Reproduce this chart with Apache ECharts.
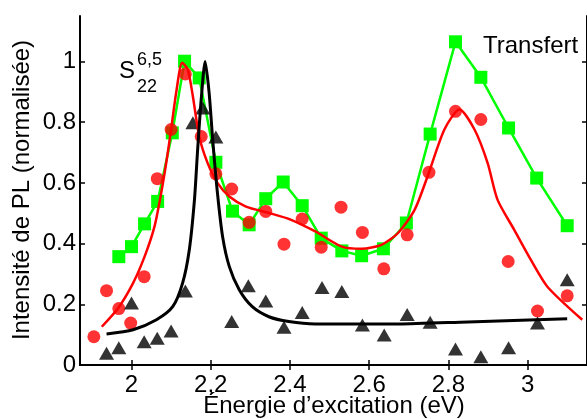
<!DOCTYPE html>
<html><head><meta charset="utf-8">
<script src="https://cdn.jsdelivr.net/npm/echarts@6/dist/echarts.min.js"></script>
<style>html,body{margin:0;padding:0;background:#fff}#c{width:587px;height:419px}</style>
</head><body><div id="c"></div>
<script>
// tick values and labels
const xTickValues = [2, 2.2, 2.4, 2.6, 2.8, 3];
const xTickLabels = ['2', '2,2', '2.4', '2.6', '2.8', '3'];
const yTickValues = [0, 0.2, 0.4, 0.6, 0.8, 1];
const yTickLabels = ['0', '0.2', '0.4', '0.6', '0.8', '1'];

// Transfert (green squares, connected)
const greenX = [1.968, 2.000, 2.033, 2.066, 2.103, 2.134, 2.171, 2.213, 2.255, 2.297, 2.339, 2.383, 2.431, 2.479, 2.531, 2.581, 2.636, 2.694, 2.754, 2.818, 2.882, 2.952, 3.023, 3.100];
const greenY = [0.357, 0.390, 0.465, 0.539, 0.765, 1.001, 0.946, 0.668, 0.507, 0.462, 0.548, 0.603, 0.525, 0.418, 0.376, 0.360, 0.383, 0.468, 0.761, 1.065, 0.948, 0.781, 0.616, 0.459];

// red dots
const redX = [1.905, 1.937, 1.968, 1.998, 2.032, 2.065, 2.100, 2.136, 2.176, 2.213, 2.253, 2.297, 2.339, 2.385, 2.431, 2.479, 2.529, 2.583, 2.637, 2.696, 2.751, 2.818, 2.882, 2.951, 3.025, 3.100];
const redY = [0.093, 0.245, 0.186, 0.138, 0.291, 0.614, 0.776, 0.959, 0.753, 0.630, 0.580, 0.470, 0.506, 0.398, 0.481, 0.388, 0.520, 0.437, 0.317, 0.429, 0.635, 0.836, 0.809, 0.341, 0.178, 0.228];

// red fit curve
const redFitX = [1.925, 1.966, 2.004, 2.033, 2.058, 2.075, 2.089, 2.100, 2.114, 2.128, 2.142, 2.155, 2.171, 2.192, 2.217, 2.247, 2.289, 2.347, 2.400, 2.464, 2.531, 2.581, 2.631, 2.673, 2.715, 2.749, 2.790, 2.828, 2.866, 2.899, 2.924, 2.966, 3.008, 3.050, 3.138];
const redFitY = [0.126, 0.187, 0.270, 0.357, 0.456, 0.567, 0.677, 0.776, 0.908, 0.996, 0.974, 0.885, 0.753, 0.666, 0.600, 0.555, 0.522, 0.501, 0.480, 0.440, 0.390, 0.383, 0.396, 0.435, 0.512, 0.627, 0.776, 0.842, 0.776, 0.666, 0.545, 0.446, 0.347, 0.258, 0.149];

// black triangles
const blackX = [1.937, 1.968, 2.000, 2.032, 2.065, 2.100, 2.136, 2.155, 2.180, 2.213, 2.253, 2.295, 2.339, 2.385, 2.431, 2.481, 2.531, 2.583, 2.638, 2.696, 2.754, 2.818, 2.882, 2.952, 3.025, 3.100];
const blackY = [0.039, 0.057, 0.204, 0.077, 0.088, 0.112, 0.244, 0.798, 0.847, 0.751, 0.143, 0.261, 0.211, 0.124, 0.173, 0.255, 0.242, 0.132, 0.099, 0.166, 0.141, 0.053, 0.027, 0.057, 0.138, 0.281];

// black fit curve
const blackFitX = [1.937, 2.004, 2.063, 2.104, 2.129, 2.146, 2.159, 2.167, 2.176, 2.186, 2.196, 2.205, 2.217, 2.230, 2.247, 2.272, 2.305, 2.347, 2.397, 2.464, 2.598, 2.673, 2.849, 3.100];
const blackFitY = [0.102, 0.116, 0.149, 0.192, 0.270, 0.380, 0.545, 0.710, 0.875, 1.000, 0.897, 0.743, 0.567, 0.423, 0.324, 0.248, 0.192, 0.159, 0.143, 0.135, 0.135, 0.135, 0.142, 0.152];

const zip = (a, b) => a.map((v, i) => [v, b[i]]);
const FONT = 'Liberation Sans, Arial, Helvetica, sans-serif';

const chart = echarts.init(document.getElementById('c'), null, {renderer: 'canvas'});
const axLine = {show: true, lineStyle: {color: '#000', width: 2}};
const tick = (vals) => ({show: true, inside: true, length: 5, lineStyle: {color: '#000', width: 1.5}, customValues: vals});

chart.setOption({
  animation: false,
  backgroundColor: '#fff',
  grid: {left: 80, top: 16, right: -3, bottom: 54, containLabel: false},
  xAxis: [{
    type: 'value', min: 1.87, max: 3.15, position: 'bottom',
    axisLine: axLine, axisTick: tick(xTickValues), splitLine: {show: false},
    axisLabel: {customValues: xTickValues, margin: 8, color: '#000', fontSize: 24, fontFamily: FONT,
      formatter: v => { const i = xTickValues.findIndex(t => Math.abs(t - v) < 1e-6); return i >= 0 ? xTickLabels[i] : ''; }}
  }, {
    type: 'value', min: 1.87, max: 3.15, position: 'top',
    axisLine: axLine, axisTick: tick(xTickValues), splitLine: {show: false}, axisLabel: {show: false}
  }],
  yAxis: [{
    type: 'value', min: 0, max: 1.15, position: 'left',
    axisLine: axLine, axisTick: tick(yTickValues), splitLine: {show: false},
    axisLabel: {customValues: yTickValues, margin: 4, color: '#000', fontSize: 24, fontFamily: FONT,
      formatter: v => { const i = yTickValues.findIndex(t => Math.abs(t - v) < 1e-6); return i >= 0 ? yTickLabels[i] : ''; }}
  }, {
    type: 'value', min: 0, max: 1.15, position: 'right',
    axisLine: axLine, axisTick: tick(yTickValues), splitLine: {show: false}, axisLabel: {show: false}
  }],
  series: [
    {type: 'line', data: zip(greenX, greenY), symbol: 'rect', symbolSize: 13, showAllSymbol: true,
      itemStyle: {color: '#00ff00'}, lineStyle: {color: '#00ff00', width: 2.5}, z: 2},
    {type: 'scatter', data: zip(redX, redY), symbol: 'circle', symbolSize: 13,
      itemStyle: {color: '#ff0000'}, z: 3},
    {type: 'scatter', data: zip(blackX, blackY), symbol: 'triangle', symbolSize: [15, 13],
      itemStyle: {color: '#000'}, z: 4},
    {type: 'line', data: zip(redFitX, redFitY), symbol: 'none', smooth: 0.25,
      lineStyle: {color: '#ff0000', width: 2.5}, z: 5},
    {type: 'line', data: zip(blackFitX, blackFitY), symbol: 'none', smooth: 0.25,
      lineStyle: {color: '#000', width: 3}, z: 5}
  ],
  graphic: [
    {type: 'text', x: 334, y: 406, style: {text: 'Énergie d\u2019excitation (eV)', font: '24px ' + FONT, fill: '#000', align: 'center', verticalAlign: 'middle'}},
    {type: 'text', x: 22, y: 190, rotation: Math.PI / 2, style: {text: 'Intensité de PL (normalisée)', font: '24px ' + FONT, fill: '#000', align: 'center', verticalAlign: 'middle'}},
    {type: 'text', x: 119, y: 71, style: {text: 'S', font: '24px ' + FONT, fill: '#000', align: 'left', verticalAlign: 'middle'}},
    {type: 'text', x: 137, y: 60, style: {text: '6,5', font: '18px ' + FONT, fill: '#000', align: 'left', verticalAlign: 'middle'}},
    {type: 'text', x: 137, y: 87, style: {text: '22', font: '18px ' + FONT, fill: '#000', align: 'left', verticalAlign: 'middle'}},
    {type: 'text', x: 483, y: 46, style: {text: 'Transfert', font: '24px ' + FONT, fill: '#000', align: 'left', verticalAlign: 'middle'}}
  ]
});
</script>
</body></html>
